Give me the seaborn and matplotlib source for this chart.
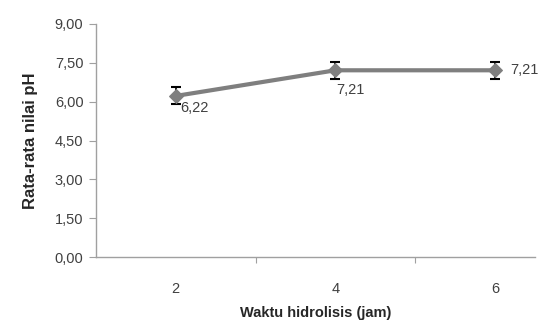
import matplotlib
matplotlib.use("Agg")
import matplotlib.pyplot as plt
import seaborn as sns
import pandas as pd
from matplotlib.ticker import FixedLocator, FuncFormatter

# Mean pH by hydrolysis time
categories = ["2", "4", "6"]
ph_mean = [6.22, 7.21, 7.21]
ph_err = [0.33, 0.33, 0.33]
point_labels = ["6,22", "7,21", "7,21"]
y_ticks = [0.0, 1.5, 3.0, 4.5, 6.0, 7.5, 9.0]

sns.set_style("white")
plt.rcParams["font.family"] = ["Liberation Sans Narrow", "Liberation Sans", "DejaVu Sans"]

df = pd.DataFrame({"pos": range(len(categories)), "ph": ph_mean})

fig = plt.figure(figsize=(5.39, 3.23), dpi=100)
ax = fig.add_axes([0.178, 0.204, 0.8146, 0.722])

ax.errorbar(df["pos"], df["ph"], yerr=ph_err, fmt="none", ecolor="black",
            elinewidth=1.2, capsize=3.5, capthick=1.5, zorder=2)
sns.lineplot(data=df, x="pos", y="ph", ax=ax, color="#7f7f7f", linewidth=3,
             marker="D", markersize=7, markeredgecolor="#7f7f7f", zorder=3)

ax.set_xlim(-0.5, 2.25)
ax.set_ylim(0, 9)
ax.yaxis.set_major_locator(FixedLocator(y_ticks))
ax.yaxis.set_major_formatter(FuncFormatter(lambda v, p: f"{v:.2f}".replace(".", ",")))

# category boundaries get the tick marks, labels sit at the centres
ax.xaxis.set_major_locator(FixedLocator([0.5, 1.5]))
ax.xaxis.set_major_formatter(FuncFormatter(lambda v, p: ""))
ax.xaxis.set_minor_locator(FixedLocator(list(df["pos"])))
ax.xaxis.set_minor_formatter(FuncFormatter(lambda v, p: categories[int(round(v))]))
ax.tick_params(axis="x", which="major", length=4, color="#a0a0a0", direction="out", bottom=True)
ax.tick_params(axis="x", which="minor", length=0, pad=18, labelsize=10.5, labelcolor="#404040", bottom=True)
ax.tick_params(axis="y", length=5, color="#a0a0a0", direction="out", left=True,
               labelsize=10.5, labelcolor="#404040", pad=4)

for side in ["top", "right"]:
    ax.spines[side].set_visible(False)
for side in ["left", "bottom"]:
    ax.spines[side].set_color("#a0a0a0")
    ax.spines[side].set_linewidth(1)

# value labels
offsets = [(0.025, -0.46), (0.005, -0.75), (0.095, 0.0)]
for i, (dx, dy) in enumerate(offsets):
    ax.text(i + dx, ph_mean[i] + dy, point_labels[i], ha="left", va="center",
            fontsize=10.5, color="#404040")

ax.set_xlabel("Waktu hidrolisis (jam)", fontsize=10.5, fontweight="bold", labelpad=7)
ax.set_ylabel("Rata-rata nilai pH", fontsize=12, fontweight="bold", labelpad=12)

fig.savefig("out.png", dpi=100)
